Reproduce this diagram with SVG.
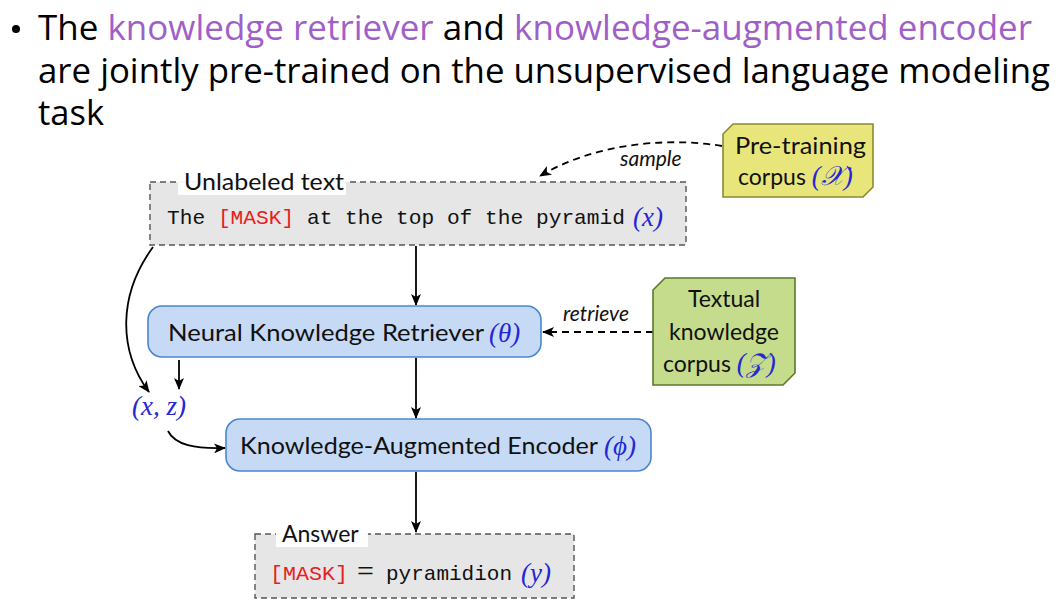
<svg xmlns="http://www.w3.org/2000/svg" width="1058" height="611" viewBox="0 0 1058 611">
<style>
.title{font-family:"Open Sans","Liberation Sans",sans-serif;font-size:34px;fill:#000}
.purple{fill:#a05fc8}
.sans{font-family:"Lato","DejaVu Sans",sans-serif;font-size:23px;fill:#111}
.mono{font-family:"Liberation Mono","DejaVu Sans Mono",monospace;font-size:21px;fill:#111}
.red{fill:#e8201c}
.math{font-family:"Liberation Serif","DejaVu Serif",serif;font-style:italic;fill:#2626d6;font-size:27px}
.it{font-family:"Lato","DejaVu Sans",sans-serif;font-style:italic;font-size:21px;fill:#111}
.dashbox{fill:#e6e6e6;stroke:#555;stroke-width:1.4;stroke-dasharray:6 4}
.rbox{fill:#c6daf5;stroke:#4a86d0;stroke-width:1.6}
.conn{fill:none;stroke:#000;stroke-width:1.8}
.dconn{fill:none;stroke:#000;stroke-width:1.8;stroke-dasharray:7 5}
</style>
<defs>
<marker id="ah" viewBox="0 0 12 10" refX="11" refY="5" markerWidth="12" markerHeight="10" markerUnits="userSpaceOnUse" orient="auto">
<path d="M0,0 L12,5 L0,10 L3,5 z" fill="#000"/>
</marker>
</defs>
<rect width="1058" height="611" fill="#fff"/>

<g id="title">
<circle cx="16" cy="29" r="4" fill="#000"/>
<text x="38" y="40" class="title" textLength="994" lengthAdjust="spacingAndGlyphs">The <tspan class="purple">knowledge retriever</tspan> and <tspan class="purple">knowledge-augmented encoder</tspan></text>
<text x="38" y="83" class="title" textLength="1012" lengthAdjust="spacingAndGlyphs">are jointly pre-trained on the unsupervised language modeling</text>
<text x="38" y="125" class="title" textLength="66" lengthAdjust="spacingAndGlyphs">task</text>
</g>

<g id="connectors">
<path class="dconn" d="M722,146 C660,136 590,146 540,176" marker-end="url(#ah)"/>
<path class="dconn" d="M653,332 L543,332" marker-end="url(#ah)"/>
<path class="conn" d="M416,246 L416,305" marker-end="url(#ah)"/>
<path class="conn" d="M416,358 L416,418" marker-end="url(#ah)"/>
<path class="conn" d="M416,472 L416,532" marker-end="url(#ah)"/>
<path class="conn" d="M153,247 C118,295 118,350 149,392" marker-end="url(#ah)"/>
<path class="conn" d="M179,360 L179,389" marker-end="url(#ah)"/>
<path class="conn" d="M168,431 C175,445 195,449 225,448" marker-end="url(#ah)"/>
<text x="620" y="166" class="it">sample</text>
<text x="563" y="321" class="it">retrieve</text>
<text x="132" y="415" class="math">(x, z)</text>
</g>

<g id="unlabeled">
<rect x="150" y="182" width="536" height="63" class="dashbox"/>
<rect x="178" y="169" width="168" height="26" fill="#fff" opacity="0.95"/>
<text x="184" y="190" class="sans" textLength="160" lengthAdjust="spacingAndGlyphs">Unlabeled text</text>
<text x="167" y="224" class="mono" textLength="458" lengthAdjust="spacingAndGlyphs">The <tspan class="red">[MASK]</tspan> at the top of the pyramid</text>
<text x="633" y="226" class="math">(x)</text>
</g>

<g id="pretraining">
<polygon points="733,124 873,124 873,187 863,197 723,197 723,134" fill="#e8e67a" stroke="#8a8a30" stroke-width="1.6"/>
<text x="735" y="154" class="sans" textLength="131" lengthAdjust="spacingAndGlyphs">Pre-training</text>
<text x="738" y="185" class="sans">corpus <tspan class="math" font-family="DejaVu Serif" font-size="24">(𝒳)</tspan></text>
</g>

<g id="retriever">
<rect x="148" y="306" width="393" height="51" rx="14" class="rbox"/>
<text x="168" y="341" class="sans" textLength="316" lengthAdjust="spacingAndGlyphs">Neural Knowledge Retriever</text>
<text x="489" y="342" class="math">(θ)</text>
</g>

<g id="textual">
<polygon points="665,278 795,278 795,373 783,385 653,385 653,290" fill="#c5dc8c" stroke="#5a7a2a" stroke-width="1.6"/>
<text x="724" y="307" class="sans" text-anchor="middle">Textual</text>
<text x="724" y="340" class="sans" text-anchor="middle">knowledge</text>
<text x="663" y="372" class="sans">corpus <tspan class="math" font-family="DejaVu Serif" font-size="24">(𝒵)</tspan></text>
</g>

<g id="encoder">
<rect x="226" y="419" width="425" height="52" rx="14" class="rbox"/>
<text x="240" y="454" class="sans" textLength="358" lengthAdjust="spacingAndGlyphs">Knowledge-Augmented Encoder</text>
<text x="604" y="455" class="math">(ϕ)</text>
</g>

<g id="answer">
<rect x="255" y="534" width="319" height="64" class="dashbox"/>
<rect x="276" y="521" width="92" height="26" fill="#fff" opacity="0.95"/>
<text x="282" y="542" class="sans">Answer</text>
<text x="270" y="580" class="mono" textLength="78" lengthAdjust="spacingAndGlyphs"><tspan class="red">[MASK]</tspan></text>
<text x="357" y="581" font-family="Liberation Serif,serif" font-size="30" fill="#111">=</text>
<text x="386" y="580" class="mono" textLength="126" lengthAdjust="spacingAndGlyphs">pyramidion</text>
<text x="521" y="582" class="math">(y)</text>
</g>
</svg>
